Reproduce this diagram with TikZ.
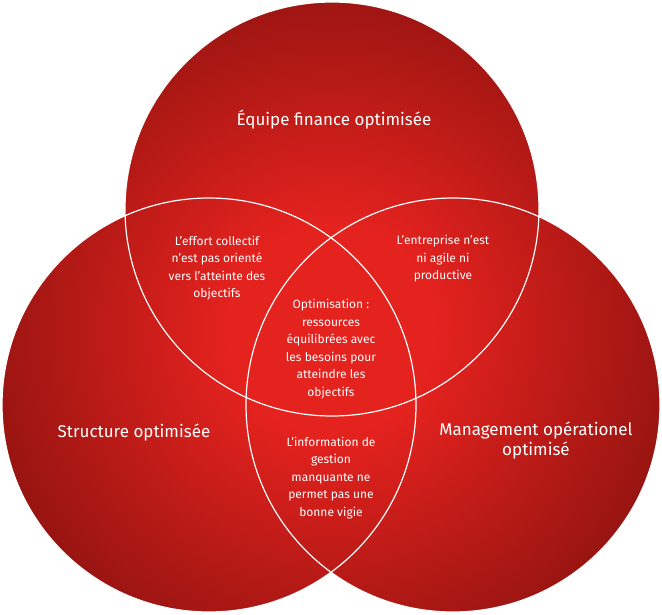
\documentclass[tikz,border=0pt]{standalone}
\usepackage{fontspec}
\setmainfont{Fira Sans}
\definecolor{vin}{RGB}{228,34,30}
\definecolor{vout}{RGB}{55,3,0}
\pgfdeclareradialshading{venn}{\pgfpoint{0bp}{0bp}}{color(0bp)=(vin); color(8bp)=(vin); color(50bp)=(vout)}
\begin{document}
\begin{tikzpicture}[x=1pt,y=-1pt,
  big/.style={text=white,font=\fontsize{17}{20}\selectfont,align=center},
  small/.style={text=white,font=\fontsize{12}{17.5}\selectfont,align=center},
  ring/.style={draw=white,line width=1.2pt}]
\useasboundingbox (0,0) rectangle (662,614);
\coordinate (ct) at (332,209);
\coordinate (cl) at (209,405);
\coordinate (cr) at (453,405);
\begin{scope}
  \clip (ct) circle (207) (cl) circle (207) (cr) circle (207);
  \path[shading=venn] (1,0) rectangle (661,660);
\end{scope}
\draw[ring] (ct) circle (207);
\draw[ring] (cl) circle (207);
\draw[ring] (cr) circle (207);
\node[big] (t) at (334,120) {Équipe finance optimisée};
\node[big] (l) at (134,432) {Structure optimisée};
\node[big] (r) at (536,440) {Management opérationel\\optimisé};
\node[small] (tl) at (217,268) {L'effort collectif\\n'est pas orienté\\vers l'atteinte des\\objectifs};
\node[small] (tr) at (443,259) {L'entreprise n'est\\ni agile ni\\productive};
\node[small] (c) at (331,349) {Optimisation :\\ressources\\équilibrées avec\\les besoins pour\\atteindre les\\objectifs};
\node[small] (b) at (331,478) {L'information de\\gestion\\manquante ne\\permet pas une\\bonne vigie};
\end{tikzpicture}
\end{document}
